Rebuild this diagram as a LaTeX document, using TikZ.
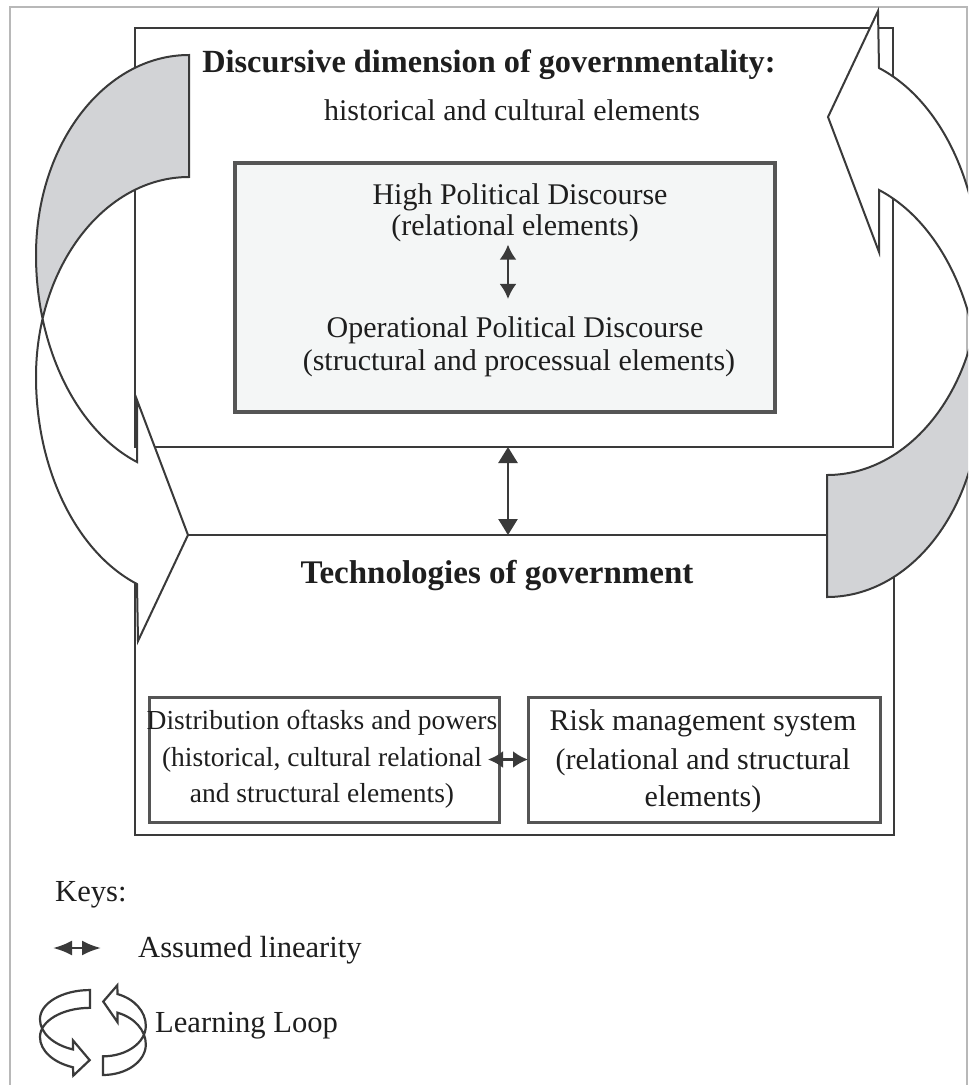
\documentclass[tikz,border=0pt]{standalone}
\usepackage{fontspec}
\setmainfont{Liberation Serif}
\usetikzlibrary{arrows.meta}
\definecolor{linec}{HTML}{3A3A3A}
\definecolor{boxc}{HTML}{555555}
\definecolor{framec}{HTML}{B8B8B8}
\definecolor{shadec}{HTML}{D2D3D6}
\definecolor{innerfill}{HTML}{F4F6F6}
\definecolor{txtc}{HTML}{1E1E1E}
\newcommand\learnarrow[3]{%
  \begin{scope}[#1]
    \fill[white] (189,55) .. controls (104.5,55) and (36,144.5) .. (36,255) .. controls (36,347.5) and (76.5,430.3) .. (137,462) -- (137,400) -- (188,535) -- (138,641) -- (137,584) .. controls (76.5,552.3) and (36,469.5) .. (36,377) .. controls (36,266.5) and (104.5,177) .. (189,177) -- cycle;
    \begin{scope}
      \clip (-3000,-3000) rectangle (3000,318.9);
      \fill[#2] (189,55) .. controls (104.5,55) and (36,144.5) .. (36,255) .. controls (36,347.5) and (76.5,430.3) .. (137,462) -- (137,400) -- (188,535) -- (138,641) -- (137,584) .. controls (76.5,552.3) and (36,469.5) .. (36,377) .. controls (36,266.5) and (104.5,177) .. (189,177) -- cycle;
    \end{scope}
    \draw[draw=linec, line width=#3, line join=miter] (189,55) .. controls (104.5,55) and (36,144.5) .. (36,255) .. controls (36,347.5) and (76.5,430.3) .. (137,462) -- (137,400) -- (188,535) -- (138,641) -- (137,584) .. controls (76.5,552.3) and (36,469.5) .. (36,377) .. controls (36,266.5) and (104.5,177) .. (189,177) -- cycle;
  \end{scope}}
\begin{document}
\begin{tikzpicture}[x=1pt,y=-1pt,
  bigbox/.style={draw=linec, line width=2.6pt, inner sep=0pt, outer sep=0pt},
  innerbox/.style={draw=boxc, line width=4.5pt, fill=innerfill, inner sep=0pt, outer sep=0pt},
  smallbox/.style={draw=boxc, line width=3pt, inner sep=0pt, outer sep=0pt},
  txt/.style={anchor=base, inner sep=0pt, text=txtc, font=\fontsize{30}{30}\selectfont},
  txtl/.style={anchor=base west, inner sep=0pt, text=txtc, font=\fontsize{30.6}{30.6}\selectfont},
  txts/.style={anchor=base, inner sep=0pt, text=txtc, font=\fontsize{27.5}{27.5}\selectfont},
  ttl/.style={anchor=base, inner sep=0pt, text=txtc, font=\fontsize{#1}{#1}\selectfont\bfseries},
  bigdbl/.style={draw=linec, line width=2.5pt, {Triangle[width=19pt,length=16pt]}-{Triangle[width=19pt,length=16pt]}},
  smalldbl/.style={draw=linec, line width=2.5pt, {Latex[width=17pt,length=15pt]}-{Latex[width=17pt,length=15pt]}},
  keydbl/.style={draw=linec, line width=2.5pt, {Latex[width=15pt,length=19pt]}-{Latex[width=15pt,length=19pt]}}
]
\useasboundingbox (0,0) rectangle (969,1085);
\fill[white] (0,0) rectangle (969,1085);
% outer frame
\draw[framec, line width=1.5pt] (10,1090) -- (10,7) -- (967,7) -- (967,1090);

% boxes
\node[bigbox, minimum width=758pt, minimum height=419pt] (disc) at (514,237.5) {};
\node[innerbox, minimum width=540pt, minimum height=249pt] (inner) at (505,287.5) {};
\node[bigbox, minimum width=759pt, minimum height=300pt] (tech) at (514.5,685) {};
\node[smallbox, minimum width=350pt, minimum height=125pt] (lbox) at (324,759.5) {};
\node[smallbox, minimum width=352pt, minimum height=125pt] (rbox) at (704,759.5) {};

% learning loop arrows
\learnarrow{}{shadec}{2pt}
\begin{scope}
  \clip (0,0) rectangle (968,1085);
  \learnarrow{rotate around={180:(508,326)}}{shadec}{2pt}
\end{scope}

% texts
\node[ttl=32.3] (t1) at (489,72) {Discursive dimension of governmentality:};
\node[txt] (t2) at (512,120) {historical and cultural elements};
\node[txt] (hpd) at (520,204) {High Political Discourse};
\node[txt] (rel) at (515,235) {(relational elements)};
\node[txt] (opd) at (515,337) {Operational Political Discourse};
\node[txt] (str) at (519,370) {(structural and processual elements)};
\node[ttl=33] (techtitle) at (497,583) {Technologies of government};
\node[txts] (l1) at (322,729) {Distribution oftasks and powers};
\node[txts] (l2) at (322,766) {(historical, cultural relational};
\node[txts] (l3) at (322,802) {and structural elements)};
\node[txt] (r1) at (703,730) {Risk management system};
\node[txt] (r2) at (703,769) {(relational and structural};
\node[txt] (r3) at (703,806) {elements)};
\node[txtl] (keys) at (55,901) {Keys:};
\node[txtl] (lin) at (138,957) {Assumed linearity};
\node[txtl] (loop) at (155,1032) {Learning Loop};

% connectors
\coordinate (ax) at (508,0);
\draw[smalldbl, shorten <=3pt, shorten >=17pt] (rel.south -| ax) -- (opd.north -| ax);
\draw[bigdbl] (disc.south -| ax) -- (tech.north -| ax);
\draw[smalldbl] ([xshift=-11pt]lbox.east) -- (rbox.west);

% keys
\coordinate (k1) at (53,948);
\coordinate (k2) at (101,948);
\draw[keydbl] (k1) -- (k2);
\learnarrow{shift={(28.2,982)}, xscale=0.327, yscale=0.146}{white}{2.2pt}
\learnarrow{shift={(155.9,1083.4)}, xscale=-0.28, yscale=-0.153}{white}{2.2pt}
\end{tikzpicture}
\end{document}
